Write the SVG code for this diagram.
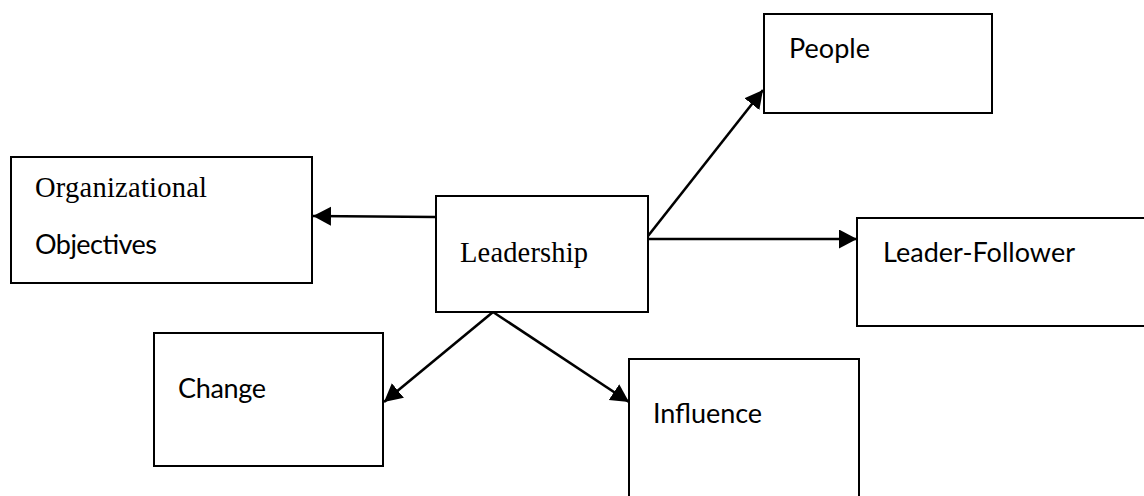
<svg xmlns="http://www.w3.org/2000/svg" width="1144" height="496" viewBox="0 0 1144 496">
<style>
.box{fill:#fff;stroke:#000;stroke-width:2}
.serif{font-family:"Liberation Serif","Times New Roman",serif;font-size:28.5px;fill:#000}
.sans{font-family:Lato,"Liberation Sans",sans-serif;font-size:27px;fill:#000}
.conn{stroke:#000;stroke-width:2.6;fill:none;marker-end:url(#ah)}
</style>
<defs>
<marker id="ah" markerUnits="userSpaceOnUse" markerWidth="20" markerHeight="20" refX="18" refY="9.5" orient="auto">
<path d="M0,0 L18,9.5 L0,19 z" fill="#000"/>
</marker>
</defs>
<rect width="1144" height="496" fill="#fff"/>
<g id="node-org">
<rect class="box" x="11" y="157" width="301" height="126"/>
<text class="serif" x="35" y="197" textLength="172">Organizational</text>
<text class="sans" x="35" y="254" textLength="122">Objectives</text>
</g>
<g id="node-leadership">
<rect class="box" x="436" y="196" width="212" height="116"/>
<text class="serif" x="460" y="262" textLength="128">Leadership</text>
</g>
<g id="node-people">
<rect class="box" x="764" y="14" width="228" height="99"/>
<text class="sans" x="789" y="58" textLength="81">People</text>
</g>
<g id="node-leader-follower">
<rect class="box" x="857" y="218" width="300" height="108"/>
<text class="sans" x="883" y="262" textLength="192">Leader-Follower</text>
</g>
<g id="node-change">
<rect class="box" x="154" y="333" width="229" height="133"/>
<text class="sans" x="178" y="398" textLength="88">Change</text>
</g>
<g id="node-influence">
<rect class="box" x="629" y="359" width="230" height="150"/>
<text class="sans" x="653" y="423" textLength="109">Influence</text>
</g>
<g id="connectors">
<line class="conn" x1="436" y1="217" x2="313" y2="216"/>
<line class="conn" x1="648" y1="236" x2="763" y2="90"/>
<line class="conn" x1="648" y1="239" x2="857" y2="239"/>
<line class="conn" x1="493" y1="312" x2="384" y2="402"/>
<line class="conn" x1="493" y1="312" x2="629" y2="402"/>
</g>
</svg>
